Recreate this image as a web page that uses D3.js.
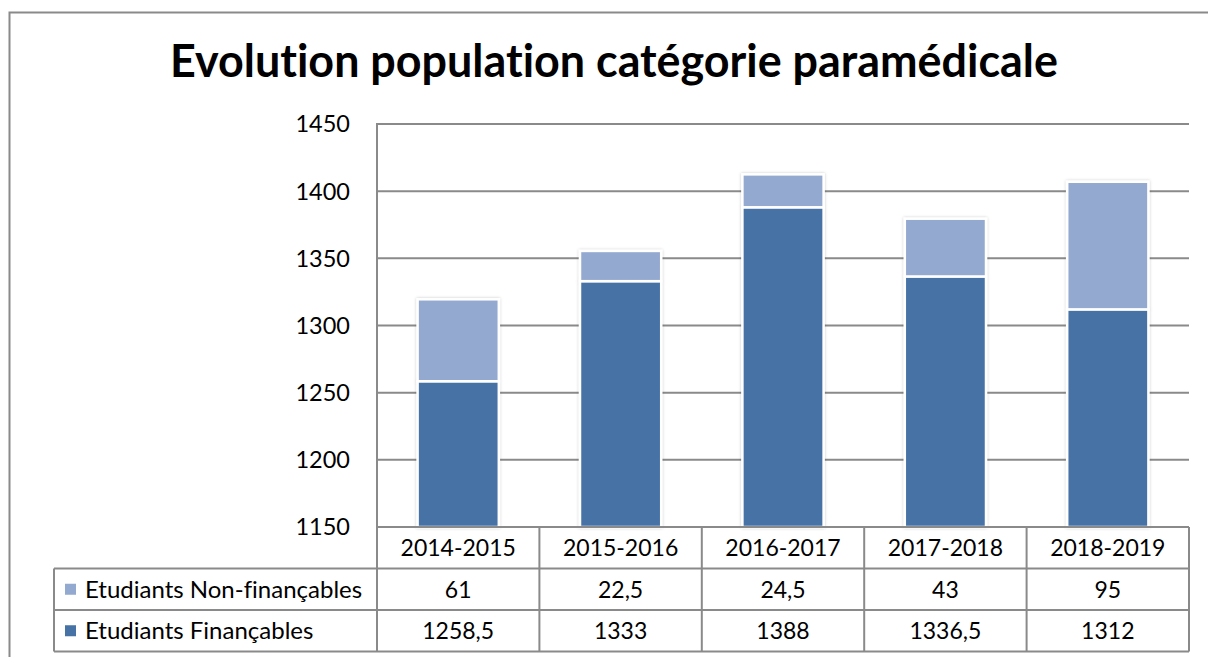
<!DOCTYPE html>
<html>
<head>
<meta charset="utf-8">
<script src="https://cdn.jsdelivr.net/npm/d3@7"></script>
<style>
  body { margin: 0; background: #fff; }
  text { font-family: Lato, "Open Sans", sans-serif; fill: #000; font-variant-ligatures: none; }
</style>
</head>
<body>
<svg width="1208" height="657"></svg>
<script>
// data
var years = ["2014-2015", "2015-2016", "2016-2017", "2017-2018", "2018-2019"];
var financables = [1258.5, 1333, 1388, 1336.5, 1312];
var nonFinancables = [61, 22.5, 24.5, 43, 95];
var seriesNames = ["Etudiants Non-finançables", "Etudiants Finançables"];
var yTicks = [1150, 1200, 1250, 1300, 1350, 1400, 1450];
var titleText = "Evolution population catégorie paramédicale";

var svg = d3.select("svg"),
    plotLeft = 377, plotRight = 1189, plotTop = 124, plotBottom = 527,
    rowH = 41.5, legendLeft = 54,
    dark = "#4672a6", light = "#93a9cf", gridColor = "#8a8a8a";

var fmt = function(v) { return String(v).replace(".", ","); };

var colScale = d3.scaleBand().domain(years).range([plotLeft, plotRight]),
    yScale = d3.scaleLinear().domain([1150, 1450]).range([plotBottom, plotTop]);

// drop shadow for bars
var defs = svg.append("defs");
var f = defs.append("filter").attr("id", "shadow").attr("x", "-20%").attr("y", "-20%").attr("width", "140%").attr("height", "140%");
f.append("feDropShadow").attr("dx", 0).attr("dy", 0).attr("stdDeviation", 1.6)
    .attr("flood-color", "#000").attr("flood-opacity", 0.22);

// outer frame (cut by the image edges)
svg.append("rect")
    .attr("x", 9.5).attr("y", 12.5)
    .attr("width", 1240).attr("height", 700)
    .attr("fill", "none").attr("stroke", gridColor).attr("stroke-width", 2);

// title, sized to the width it has in the reference
var title = svg.append("text")
    .attr("x", 614).attr("y", 77)
    .attr("text-anchor", "middle")
    .style("font-weight", "bold")
    .style("font-size", "40px")
    .text(titleText);
var tw = title.node().getComputedTextLength();
title.style("font-size", (40 * 888 / tw) + "px");

// gridlines
var g = svg.append("g");
g.selectAll("line.grid")
    .data(yTicks.slice(1))
    .enter().append("line")
      .attr("class", "grid")
      .attr("x1", plotLeft).attr("x2", plotRight)
      .attr("y1", function(d) { return yScale(d); })
      .attr("y2", function(d) { return yScale(d); })
      .attr("stroke", gridColor).attr("stroke-width", 2);

g.append("line")
    .attr("x1", plotLeft).attr("x2", plotLeft)
    .attr("y1", plotTop - 1).attr("y2", plotBottom)
    .attr("stroke", gridColor).attr("stroke-width", 2);

// y tick labels
g.selectAll("text.ytick")
    .data(yTicks)
    .enter().append("text")
      .attr("class", "ytick")
      .attr("x", 350)
      .attr("y", function(d) { return yScale(d); })
      .attr("dy", "0.36em")
      .attr("text-anchor", "end")
      .style("font-size", "23.5px")
      .text(function(d) { return d; });

// stacked bars
var stacks = years.map(function(y, i) {
  return [
    {year: y, y0: 1150, y1: financables[i], color: dark},
    {year: y, y0: financables[i], y1: financables[i] + nonFinancables[i], color: light}
  ];
});

var barW = colScale.bandwidth() * 0.5;
var bars = svg.append("g").attr("filter", "url(#shadow)");
bars.selectAll("rect")
    .data(d3.merge(stacks))
    .enter().append("rect")
      .attr("x", function(d) { return colScale(d.year) + colScale.bandwidth() / 2 - barW / 2; })
      .attr("width", barW)
      .attr("y", function(d) { return yScale(d.y1); })
      .attr("height", function(d) { return yScale(d.y0) - yScale(d.y1); })
      .attr("fill", function(d) { return d.color; })
      .attr("stroke", "#fff").attr("stroke-width", 2.5);

// data table
var t = svg.append("g");
var rows = [
  {name: seriesNames[0], values: nonFinancables, color: light},
  {name: seriesNames[1], values: financables, color: dark}
];

// header row cells
t.selectAll("text.head")
    .data(years)
    .enter().append("text")
      .attr("class", "head")
      .attr("x", function(d) { return colScale(d) + colScale.bandwidth() / 2; })
      .attr("y", plotBottom + rowH / 2)
      .attr("dy", "0.36em")
      .attr("text-anchor", "middle")
      .style("font-size", "23px")
      .text(function(d) { return d; });

var legendTexts = [];
rows.forEach(function(r, ri) {
  var yMid = plotBottom + rowH * (ri + 1) + rowH / 2;
  t.append("rect")
      .attr("x", legendLeft + 11).attr("y", yMid - 5.5)
      .attr("width", 11).attr("height", 11)
      .attr("fill", r.color);
  legendTexts.push(t.append("text")
      .attr("x", legendLeft + 31).attr("y", yMid)
      .attr("dy", "0.36em")
      .style("font-size", "22px")
      .text(r.name));
  t.selectAll("text.v" + ri)
      .data(r.values)
      .enter().append("text")
        .attr("class", "v" + ri)
        .attr("x", function(d, i) { return colScale(years[i]) + colScale.bandwidth() / 2; })
        .attr("y", yMid)
        .attr("dy", "0.36em")
        .attr("text-anchor", "middle")
        .style("font-size", "23px")
        .text(function(d) { return fmt(d); });
});
// legend labels: fit the longer one to the reference width
var lw = legendTexts[0].node().getComputedTextLength();
var lsize = Math.min(24, 22 * 282 / lw);
legendTexts.forEach(function(s) { s.style("font-size", lsize + "px"); });

// table borders
var hLines = [
  [plotLeft, plotRight, plotBottom],
  [legendLeft, plotRight, plotBottom + rowH],
  [legendLeft, plotRight, plotBottom + rowH * 2],
  [legendLeft, plotRight, plotBottom + rowH * 3]
];
t.selectAll("line.h")
    .data(hLines)
    .enter().append("line")
      .attr("class", "h")
      .attr("x1", function(d) { return d[0]; })
      .attr("x2", function(d) { return d[1]; })
      .attr("y1", function(d) { return d[2]; })
      .attr("y2", function(d) { return d[2]; })
      .attr("stroke", gridColor).attr("stroke-width", 2);

var vLines = years.map(function(y) { return [colScale(y), plotBottom]; });
vLines.push([plotRight, plotBottom]);
vLines.push([legendLeft, plotBottom + rowH]);
t.selectAll("line.v")
    .data(vLines)
    .enter().append("line")
      .attr("class", "v")
      .attr("x1", function(d) { return d[0]; })
      .attr("x2", function(d) { return d[0]; })
      .attr("y1", function(d) { return d[1]; })
      .attr("y2", plotBottom + rowH * 3)
      .attr("stroke", gridColor).attr("stroke-width", 2);
</script>
</body>
</html>
